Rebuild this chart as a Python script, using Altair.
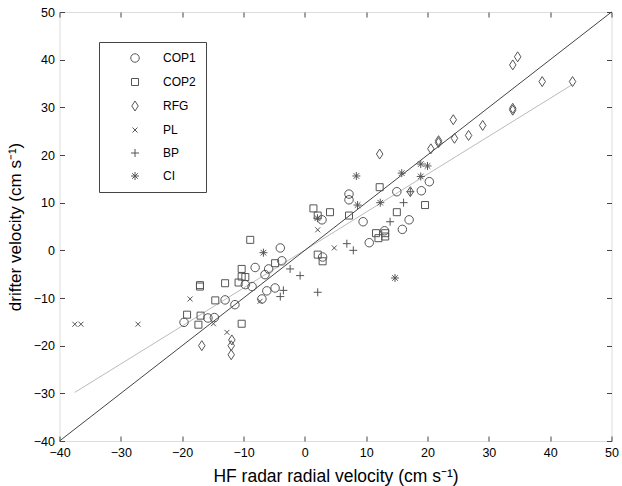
import altair as alt
import pandas as pd

# ---- data ----
groups = ["COP1", "COP2", "RFG", "PL", "BP", "CI"]

cop1_x = [-19.7, -15.8, -14.75, -13.0, -11.4, -9.7, -8.6, -8.1, -7.0, -6.2, -5.9, -6.5, -4.85,
          -4.0, -3.75, 2.9, 2.8, 7.2, 7.2, 9.5, 10.5, 13.0, 15.0, 15.9, 17.0, 19.0, 20.3]
cop1_y = [-15.1, -14.2, -14.1, -10.4, -11.4, -7.2, -7.6, -3.6, -10.2, -8.5, -3.9, -5.1, -7.9,
          0.5, -2.2, -1.4, 6.4, 11.8, 10.6, 6.0, 1.6, 4.1, 12.3, 4.4, 6.4, 12.5, 14.4]

cop2_x = [-19.2, -17.1, -17.1, -17.0, -17.35, -14.6, -13.0, -10.3, -10.3, -9.7, -10.8, -10.3,
          -8.9, -4.85, 1.4, 2.1, 2.1, 2.9, 4.1, 7.2, 11.6, 12.0, 13.1, 13.1, 12.2, 15.0, 19.6]
cop2_y = [-13.5, -7.3, -7.6, -13.7, -15.6, -10.5, -6.9, -3.9, -5.5, -5.6, -6.75, -15.4,
          2.2, -2.7, 8.8, 7.3, -0.9, -2.3, 8.0, 7.3, 3.6, 2.55, 3.6, 2.9, 13.25, 8.0, 9.5]

rfg_x = [-16.8, -11.9, -12.0, -12.0, 12.2, 17.2, 20.55, 21.8, 21.8, 24.4, 24.2, 26.7, 29.0,
         33.9, 33.9, 33.9, 34.7, 38.7, 43.65]
rfg_y = [-20.0, -18.8, -20.0, -21.9, 20.2, 12.3, 21.3, 22.6, 23.0, 23.5, 27.4, 24.1, 26.2,
         29.8, 29.4, 38.9, 40.6, 35.4, 35.4]

pl_x = [-37.5, -36.5, -27.2, -18.7, -14.9, -12.7, -7.3, 2.1, 4.8]
pl_y = [-15.5, -15.5, -15.5, -10.2, -15.4, -17.2, -10.7, 4.3, 0.5]

bp_x = [-4.0, -3.5, -2.4, -0.77, 2.1, 6.85, 7.9, 13.9, 16.1, 17.2]
bp_y = [-9.7, -8.4, -3.9, -5.3, -8.8, 1.4, 0.0, 6.0, 10.0, 12.3]

ci_x = [-6.75, 2.06, 8.4, 8.6, 12.3, 14.7, 15.8, 18.9, 20.0, 18.9]
ci_y = [-0.5, 6.75, 15.6, 9.5, 10.0, -5.8, 16.2, 18.1, 17.7, 15.5]

one_x = [-40, 50]
one_y = [-40, 50]
fit_x = [-37.5, 43.65]
fit_y = [-29.8, 34.8]

tick_vals = [-40, -30, -20, -10, 0, 10, 20, 30, 40, 50]

# ---- tables ----
series = {"COP1": (cop1_x, cop1_y), "COP2": (cop2_x, cop2_y), "RFG": (rfg_x, rfg_y),
          "PL": (pl_x, pl_y), "BP": (bp_x, bp_y), "CI": (ci_x, ci_y)}
rows = []
for g in groups:
    xs, ys = series[g]
    for a, b in zip(xs, ys):
        rows.append({"x": a, "y": b, "group": g})
pts = pd.DataFrame(rows)
one_df = pd.DataFrame({"x": one_x, "y": one_y})
fit_df = pd.DataFrame({"x": fit_x, "y": fit_y})

W, H = 552, 429
FONT = "Liberation Sans"
MARK = "#555555"
FRAME = "#444444"

shapes = [
    "M-0.85,0A0.85,0.85 0 1,0 0.85,0A0.85,0.85 0 1,0 -0.85,0Z",
    "M-0.7,-0.7L0.7,-0.7L0.7,0.7L-0.7,0.7Z",
    "M0,-1L0.65,0L0,1L-0.65,0Z",
    "M-0.5,-0.5L0.5,0.5M-0.5,0.5L0.5,-0.5",
    "M-0.8,0L0.8,0M0,-0.8L0,0.8",
    "M-0.8,0L0.8,0M0,-0.8L0,0.8M-0.56,-0.56L0.56,0.56M-0.56,0.56L0.56,-0.56",
]

xsc = alt.Scale(domain=[-40, 50], nice=False, zero=False)
ysc = alt.Scale(domain=[-40, 50], nice=False, zero=False)


def tick_axis(orient, offset):
    return alt.Axis(orient=orient, offset=offset, labels=False, domain=False, grid=False,
                    ticks=True, tickSize=5, tickColor=FRAME, values=tick_vals, title=None)


points = alt.Chart(pts).mark_point(filled=False, size=100, strokeWidth=1, color=MARK, opacity=1).encode(
    x=alt.X("x:Q", scale=xsc,
            axis=alt.Axis(orient="bottom", values=tick_vals, ticks=False, domain=False, grid=False,
                          labelPadding=5, labelFlush=False, labelOverlap=False,
                          labelFontSize=12.5, labelFont=FONT, labelColor="black",
                          title="HF radar radial velocity (cm s\u207b\u00b9)", titleFont=FONT,
                          titleFontSize=17.5, titleFontWeight="normal", titleColor="black",
                          titlePadding=9)),
    y=alt.Y("y:Q", scale=ysc,
            axis=alt.Axis(orient="left", values=tick_vals, ticks=False, domain=False, grid=False,
                          labelPadding=5, labelFlush=False, labelOverlap=False,
                          labelFontSize=12.5, labelFont=FONT, labelColor="black",
                          title="drifter velocity (cm s\u207b\u00b9)", titleFont=FONT,
                          titleFontSize=17, titleFontWeight="normal", titleColor="black",
                          titlePadding=9)),
    shape=alt.Shape("group:N", scale=alt.Scale(domain=groups, range=shapes),
                    legend=alt.Legend(orient="none", legendX=39.5, legendY=30, title=None,
                                      strokeColor=FRAME, padding=10, symbolOffset=20,
                                      labelOffset=22, rowPadding=11, symbolSize=100,
                                      symbolStrokeColor=MARK, symbolFillColor="transparent",
                                      symbolStrokeWidth=1, labelFont=FONT, labelFontSize=12,
                                      labelColor="black",
                                      labelExpr="datum.label + '\u00a0\u00a0\u00a0\u00a0'")),
)

one_line = alt.Chart(one_df).mark_line(color=FRAME, strokeWidth=1).encode(
    x=alt.X("x:Q", scale=xsc, axis=tick_axis("top", -H)),
    y=alt.Y("y:Q", scale=ysc, axis=tick_axis("right", -W)),
)

fit_line = alt.Chart(fit_df).mark_line(color="#bbbbbb", strokeWidth=1).encode(
    x=alt.X("x:Q", scale=xsc, axis=tick_axis("bottom", -H)),
    y=alt.Y("y:Q", scale=ysc, axis=tick_axis("left", -W)),
)

chart = alt.layer(fit_line, one_line, points).resolve_axis(
    x="independent", y="independent"
).properties(
    width=W, height=H,
    autosize=alt.AutoSizeParams(type="none"),
    padding={"left": 59.5, "top": 12, "right": 10.5, "bottom": 45},
).configure_view(stroke=FRAME, strokeWidth=1).configure(background="white")

chart.save("out.html", embed_options={"renderer": "svg", "actions": False})
